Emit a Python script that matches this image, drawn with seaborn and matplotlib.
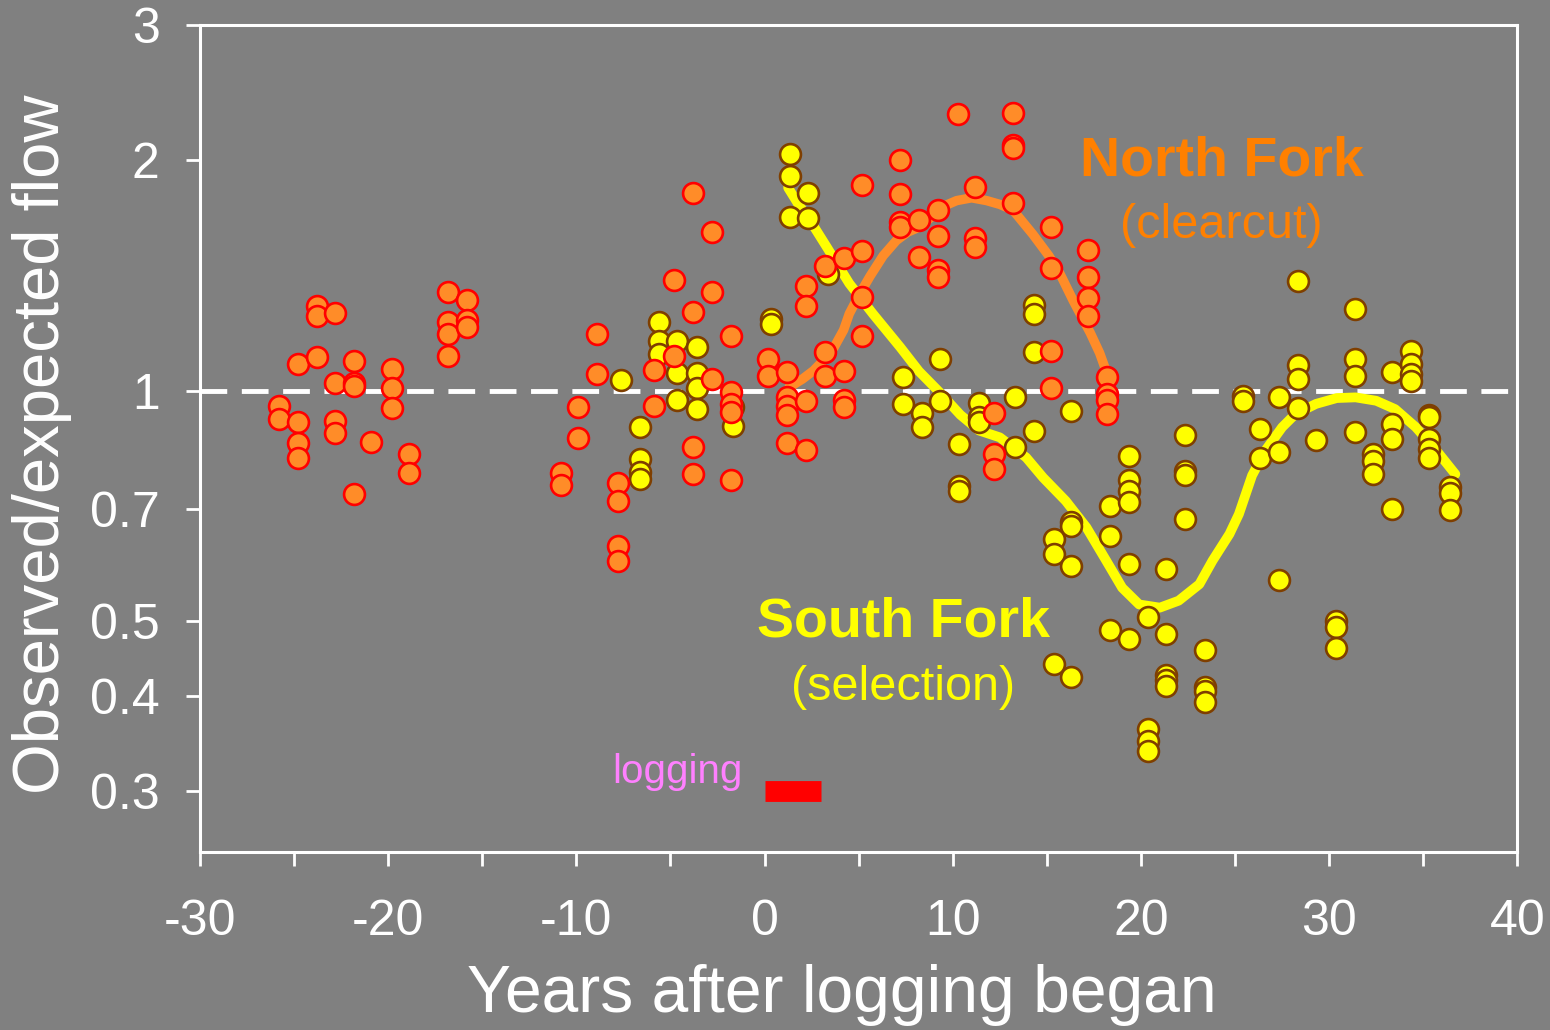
import numpy as np
import matplotlib
matplotlib.use('Agg')
import matplotlib.pyplot as plt
import pandas as pd
import seaborn as sns
from matplotlib.ticker import MultipleLocator, NullLocator

# North Fork (clearcut) - observed/expected flow by year
north_years = [-25.8, -24.8, -23.8, -22.8, -21.8, -20.9, -19.8, -18.9, -16.8, -15.8,
               -10.8, -9.9, -8.9, -7.8, -5.9, -4.8, -3.8, -2.8, -1.8,
               0.2, 1.2, 2.2, 3.2, 4.2, 5.2, 7.2, 8.2, 9.2, 10.3, 11.2, 12.2, 13.2,
               15.2, 17.2, 18.2]
north_vals = [[0.955, 0.918], [1.082, 0.909, 0.854, 0.818], [1.291, 1.251, 1.108],
              [1.262, 1.024, 0.912, 0.880], [1.094, 1.022, 1.015, 0.733], [0.858],
              [1.066, 1.007, 0.949], [0.827, 0.780], [1.347, 1.230, 1.184, 1.111],
              [1.314, 1.237, 1.210],
              [0.781, 0.753], [0.953, 0.867], [1.184, 1.052], [0.757, 0.718, 0.627, 0.600],
              [1.065, 0.956], [1.393, 1.109], [1.813, 1.265, 0.843, 0.778],
              [1.609, 1.346, 1.035], [1.177, 0.995, 0.96, 0.937, 0.764],
              [1.099, 1.045], [1.059, 0.98, 0.955, 0.93, 0.854], [1.368, 1.290, 0.970, 0.837],
              [1.454, 1.122, 1.044], [1.491, 1.060, 0.972, 0.951],
              [1.857, 1.521, 1.324, 1.180], [1.998, 1.803, 1.660, 1.636], [1.668, 1.494],
              [1.719, 1.591, 1.435, 1.406], [2.295], [1.844, 1.584, 1.540],
              [0.935, 0.827, 0.790], [2.304, 2.091, 2.075, 1.757],
              [1.635, 1.445, 1.126, 1.007], [1.524, 1.409, 1.322, 1.253],
              [1.041, 0.991, 0.973, 0.932]]

# South Fork (selection)
south_years = [-7.65, -6.6, -5.6, -4.65, -3.6, -1.7, 0.35, 1.33, 2.32, 3.35,
               7.35, 8.35, 9.3, 10.35, 11.4, 13.3, 14.3, 15.35, 16.3, 18.35, 19.35,
               20.35, 21.35, 22.35, 23.4, 25.4, 26.3, 27.35, 28.35, 29.3, 30.35,
               31.35, 32.3, 33.35, 34.35, 35.3, 36.4]
south_vals = [[1.033], [0.896, 0.814, 0.782, 0.767], [1.230, 1.161, 1.118],
              [1.162, 1.056, 0.972], [1.139, 1.056, 1.008, 0.946], [0.951, 0.899],
              [1.241, 1.222], [2.034, 1.906, 1.685], [1.813, 1.682], [1.42],
              [1.043, 0.962], [0.934, 0.897], [1.100, 0.970], [0.852, 0.751, 0.740],
              [0.965, 0.923, 0.909], [0.982, 0.845], [1.294, 1.259, 1.122, 0.885],
              [0.640, 0.612, 0.440], [0.942, 0.673, 0.666, 0.590, 0.423],
              [0.707, 0.646, 0.487], [0.821, 0.765, 0.740, 0.716, 0.594, 0.474],
              [0.506, 0.362, 0.349, 0.339], [0.586, 0.482, 0.426, 0.419, 0.412],
              [0.875, 0.786, 0.776, 0.680], [0.459, 0.410, 0.405, 0.392],
              [0.985, 0.97], [0.891, 0.816], [0.980, 0.831, 0.566],
              [1.390, 1.081, 1.036, 0.949], [0.863], [0.501, 0.492, 0.462],
              [1.279, 1.100, 1.046, 0.882], [0.827, 0.810, 0.778],
              [1.059, 0.905, 0.865, 0.700], [1.126, 1.084, 1.051, 1.030],
              [0.930, 0.923, 0.865, 0.839, 0.817], [0.748, 0.735, 0.699]]

# smoothed trend curves
north_curve_x = [1.3, 2.0, 2.6, 3.2, 3.7, 4.2, 4.5, 5.0, 5.6, 6.3, 7.0, 7.6, 8.1, 8.8, 9.5,
                 10.2, 11.0, 11.8, 12.5, 13.2, 14.25, 15.1, 15.7, 16.4, 17.3, 17.8, 18.15]
north_curve_y = [1.01, 1.035, 1.062, 1.10, 1.14, 1.20, 1.26, 1.33, 1.41, 1.50, 1.57, 1.61,
                 1.63, 1.68, 1.74, 1.77, 1.785, 1.77, 1.75, 1.72, 1.60, 1.50, 1.42, 1.31,
                 1.19, 1.12, 1.06]
south_curve_x = [1.25, 1.8, 2.4, 3.3, 4.5, 5.75, 7.2, 8.2, 9.3, 10.4, 11.4, 12.5, 13.9,
                 14.8, 16.0, 17.1, 18.15, 19.0, 19.9, 21.0, 22.0, 23.1, 23.8, 24.7, 25.2,
                 25.9, 26.6, 27.5, 28.2, 29.3, 30.4, 31.4, 32.5, 33.5, 34.6, 35.7, 36.7]
south_curve_y = [1.84, 1.75, 1.67, 1.54, 1.38, 1.26, 1.14, 1.06, 0.995, 0.93, 0.887, 0.869,
                 0.818, 0.77, 0.718, 0.663, 0.600, 0.553, 0.526, 0.521, 0.532, 0.559, 0.60,
                 0.65, 0.69, 0.775, 0.835, 0.896, 0.932, 0.961, 0.978, 0.980, 0.970, 0.946,
                 0.896, 0.835, 0.778]

logging_x = [0, 3]
logging_y = [0.3, 0.3]

y_ticks = [0.3, 0.4, 0.5, 0.7, 1, 2, 3]
y_ticklabels = ['0.3', '0.4', '0.5', '0.7', '1', '2', '3']

north = pd.DataFrame({'x': [yr for yr, v in zip(north_years, north_vals) for _ in v],
                      'y': [y for v in north_vals for y in v]})
south = pd.DataFrame({'x': [yr for yr, v in zip(south_years, south_vals) for _ in v],
                      'y': [y for v in south_vals for y in v]})

sns.set_style('ticks')
plt.rcParams['font.family'] = ['Liberation Sans', 'DejaVu Sans']
plt.rcParams['axes.unicode_minus'] = False

grey = '#808080'
fig = plt.figure(figsize=(15.5, 10.3), dpi=100, facecolor=grey)
ax = fig.add_axes([0.129, 0.1728, 0.850, 0.8029])
ax.set_facecolor(grey)

ax.axhline(1, color='white', lw=3.5, dashes=(5.5, 3), zorder=1)

sns.lineplot(x=north_curve_x, y=north_curve_y, sort=False, estimator=None,
             color='#FF8C28', linewidth=6.8, ax=ax, zorder=2)
sns.lineplot(x=south_curve_x, y=south_curve_y, sort=False, estimator=None,
             color='#FFFF00', linewidth=7, ax=ax, zorder=2)

sns.scatterplot(data=south, x='x', y='y', s=225, color='#FFFF00', edgecolor='#7F3F00',
                linewidth=1.9, ax=ax, zorder=3)
sns.scatterplot(data=north, x='x', y='y', s=225, color='#FF8C28', edgecolor='#FF0000',
                linewidth=1.9, ax=ax, zorder=4)

ax.plot(logging_x, logging_y, color='#FF0000', lw=15, solid_capstyle='butt', zorder=3)

ax.set_yscale('log')
ax.set_ylim(0.25, 3)
ax.set_xlim(-30, 40)
ax.set_yticks(y_ticks)
ax.set_yticklabels(y_ticklabels)
ax.yaxis.set_minor_locator(NullLocator())
ax.xaxis.set_major_locator(MultipleLocator(10))
ax.xaxis.set_minor_locator(MultipleLocator(5))

for sp in ax.spines.values():
    sp.set_visible(True)
    sp.set_color('white')
    sp.set_linewidth(2.2)
ax.tick_params(axis='both', which='both', direction='out', color='white', width=2,
               length=10, labelcolor='white', labelsize=36)
ax.tick_params(axis='x', which='major', pad=24)
ax.tick_params(axis='y', which='major', pad=19)

ax.set_xlabel('Years after logging began', fontsize=47.5, color='white')
ax.set_ylabel('Observed/expected flow', fontsize=47, color='white')
ax.xaxis.set_label_coords(0.487, -0.136)
ax.yaxis.set_label_coords(-0.097, 0.493)

ax.text(24.27, 1.91, 'North Fork', color='#FF8000', fontsize=40, fontweight='bold',
        ha='center', va='baseline')
ax.text(24.27, 1.58, '(clearcut)', color='#FF8000', fontsize=35, ha='center', va='baseline')
ax.text(7.37, 0.478, 'South Fork', color='#FFFF00', fontsize=40, fontweight='bold',
        ha='center', va='baseline')
ax.text(7.37, 0.395, '(selection)', color='#FFFF00', fontsize=35, ha='center', va='baseline')
ax.text(-4.65, 0.3076, 'logging', color='#FF80FF', fontsize=29, ha='center', va='baseline')

fig.savefig('out.png', dpi=100, facecolor=grey)
